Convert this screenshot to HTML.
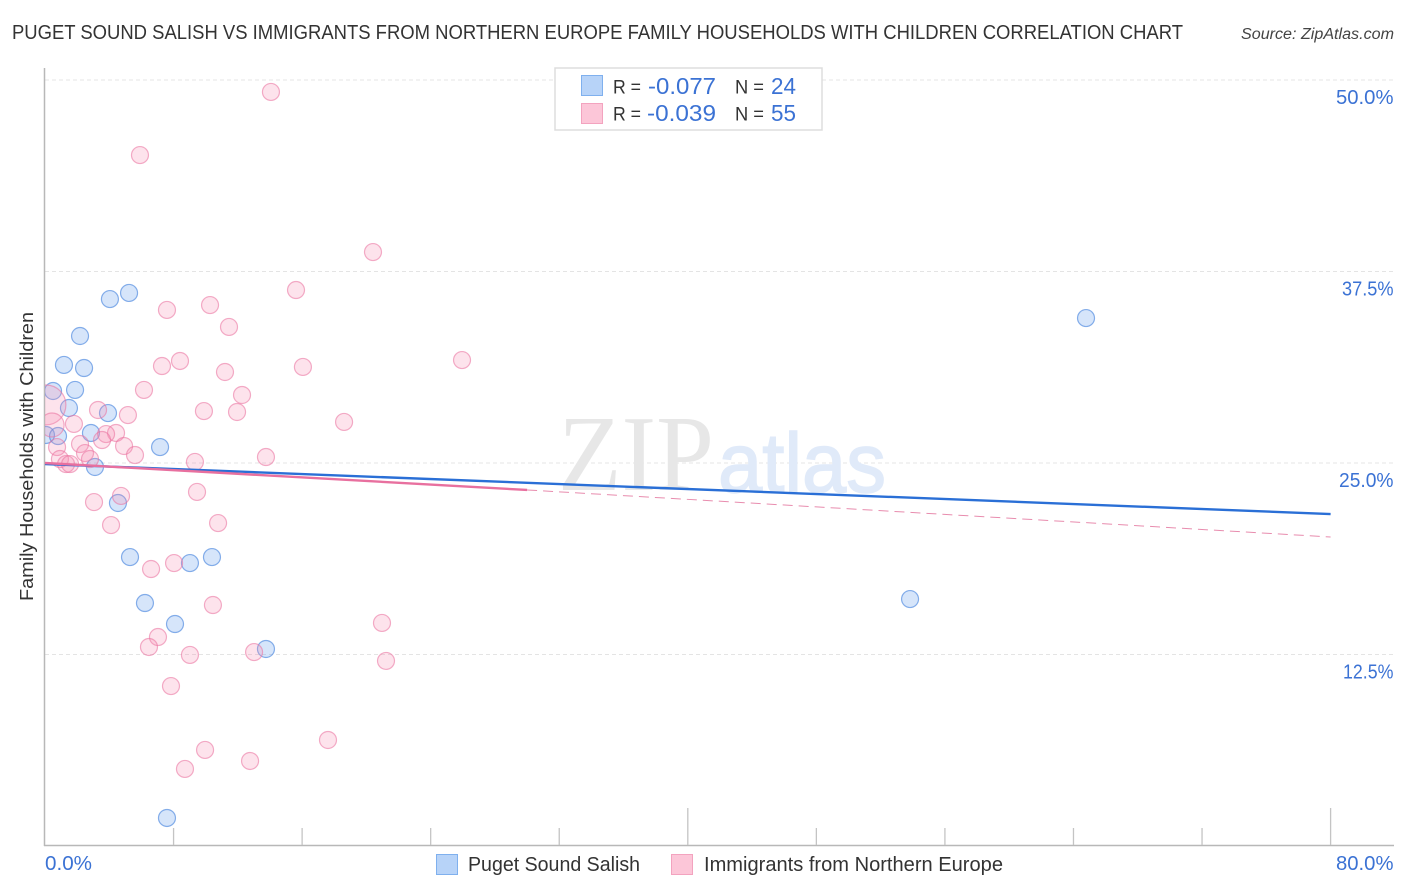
<!DOCTYPE html>
<html lang="en">
<head>
<meta charset="utf-8">
<title>Puget Sound Salish vs Immigrants from Northern Europe Correlation Chart</title>
<style>
html,body{margin:0;padding:0;background:#fff;width:1406px;height:892px;overflow:hidden}
svg{display:block;font-family:"Liberation Sans",sans-serif}
</style>
</head>
<body>
<svg id="chart" xmlns="http://www.w3.org/2000/svg" width="1406" height="892" viewBox="0 0 1406 892">
  <defs><clipPath id="plot-clip"><rect x="45" y="68" width="1349" height="777"/></clipPath></defs>
  <rect width="1406" height="892" fill="#fff"/>
  <text x="12" y="39" font-size="20" fill="#333" textLength="1171" lengthAdjust="spacingAndGlyphs">PUGET SOUND SALISH VS IMMIGRANTS FROM NORTHERN EUROPE FAMILY HOUSEHOLDS WITH CHILDREN CORRELATION CHART</text>
  <text x="1241" y="39" font-size="15.5" font-style="italic" fill="#444" textLength="153" lengthAdjust="spacingAndGlyphs">Source: ZipAtlas.com</text>
  <text transform="translate(33,456.5) rotate(-90)" text-anchor="middle" font-size="18.5" fill="#333" textLength="289" lengthAdjust="spacingAndGlyphs">Family Households with Children</text>
  <g id="grid"></g>
  <g>
    <text x="558" y="490" font-family="'Liberation Serif',serif" font-size="108" fill="#e7e7e7" textLength="156" lengthAdjust="spacingAndGlyphs">ZIP</text>
    <text x="718" y="492" font-size="84" fill="#e0eaf9" stroke="#e0eaf9" stroke-width="1.5" textLength="168" lengthAdjust="spacingAndGlyphs">atlas</text>
  </g>
  <g id="axes"></g>
  <g id="points" clip-path="url(#plot-clip)"></g>
  <g id="trends"></g>
  <g id="ylabels"></g>
  <g id="xlabels"></g>
  <g>
    <rect x="555" y="68" width="267" height="62" fill="#fff" stroke="#ddd" stroke-width="1.5"/>
    <rect x="581.5" y="75.5" width="21" height="20" fill="#b7d3f8" stroke="#7fb0ee"/>
    <rect x="581.5" y="103.5" width="21" height="20" fill="#fcc6d8" stroke="#f3a3bf"/>
    <text x="613" y="93.5" font-size="19" fill="#333" textLength="28" lengthAdjust="spacingAndGlyphs">R =</text>
    <text x="648" y="94" font-size="23" fill="#3b72d4" textLength="68" lengthAdjust="spacingAndGlyphs">-0.077</text>
    <text x="735" y="93.5" font-size="19" fill="#333" textLength="29" lengthAdjust="spacingAndGlyphs">N =</text>
    <text x="771" y="94" font-size="23" fill="#3b72d4" textLength="25" lengthAdjust="spacingAndGlyphs">24</text>
    <text x="613" y="120.5" font-size="19" fill="#333" textLength="28" lengthAdjust="spacingAndGlyphs">R =</text>
    <text x="647" y="121" font-size="23" fill="#3b72d4" textLength="69" lengthAdjust="spacingAndGlyphs">-0.039</text>
    <text x="735" y="120.5" font-size="19" fill="#333" textLength="29" lengthAdjust="spacingAndGlyphs">N =</text>
    <text x="771" y="121" font-size="23" fill="#3b72d4" textLength="25" lengthAdjust="spacingAndGlyphs">55</text>
  </g>
  <g>
    <rect x="436.5" y="854.5" width="21" height="20" fill="#b7d3f8" stroke="#7fb0ee"/>
    <text x="468" y="871" font-size="20" fill="#333" textLength="172" lengthAdjust="spacingAndGlyphs">Puget Sound Salish</text>
    <rect x="671.5" y="854.5" width="21" height="20" fill="#fcc6d8" stroke="#f3a3bf"/>
    <text x="704" y="871" font-size="20" fill="#333" textLength="299" lengthAdjust="spacingAndGlyphs">Immigrants from Northern Europe</text>
  </g>
</svg>
<script>
const yTickValues = [50, 37.5, 25, 12.5];
const yTickLabels = ['50.0%', '37.5%', '25.0%', '12.5%'];
const xTickValues = [8, 16, 24, 32, 40, 48, 56, 64, 72, 80];
const xMajorTicks = [40, 80];
const xEndValues = [0, 80];
const xEndLabels = ['0.0%', '80.0%'];

const blueX = [0.06,0.81,0.50,1.49,1.18,1.87,2.43,2.18,4.04,5.23,2.86,3.92,3.11,4.54,7.16,5.29,9.02,10.39,6.22,8.09,13.75,7.59,64.78,53.83];
const blueY = [26.83,26.76,29.70,28.59,31.40,29.77,31.20,33.29,35.70,36.10,26.96,28.26,24.74,22.39,26.04,18.86,18.47,18.86,15.86,14.49,12.86,1.83,34.46,16.12];

const pinkX = [14.06,5.91,20.41,15.62,7.59,10.27,11.45,25.95,16.05,8.40,7.28,11.20,6.16,12.26,9.89,11.95,3.30,5.16,18.61,1.80,4.42,3.80,3.55,2.18,4.92,5.60,13.75,9.33,2.49,0.75,0.93,2.80,1.31,1.56,4.73,9.46,3.05,10.77,4.11,8.03,6.60,10.45,20.97,7.03,6.47,9.02,13.01,21.22,7.84,17.61,9.96,12.76,8.71];
const pinkY = [49.22,45.10,38.77,36.29,34.99,35.31,33.88,31.72,31.27,31.66,31.33,30.94,29.77,29.44,28.39,28.33,28.46,28.13,27.68,27.55,26.96,26.89,26.50,26.24,26.11,25.52,25.39,25.07,25.65,26.04,25.26,25.26,24.93,24.93,22.85,23.11,22.45,21.08,20.95,18.47,18.08,15.73,14.56,13.64,12.99,12.47,12.66,12.08,10.44,6.92,6.27,5.55,5.03];

const pinkLargeX = [0.06, 0.44];
const pinkLargeY = [28.79, 27.48];
const pinkLargeWeight = [5.5, 2];

const blueTrendX = [0, 80];
const blueTrendY = [24.93, 21.67];
const pinkSolidX = [0, 30];
const pinkSolidY = [25.0, 23.24];
const pinkDashX = [30, 80];
const pinkDashY = [23.24, 20.17];

const NS = 'http://www.w3.org/2000/svg';
const sx = v => 45 + v * 16.07;
const sy = v => 80 + (50 - v) * 15.32;
const rad = w => 8.5 * Math.sqrt(w);

function make(tag, attrs, parent) {
  const el = document.createElementNS(NS, tag);
  for (const k in attrs) el.setAttribute(k, attrs[k]);
  parent.appendChild(el);
  return el;
}

// The reference typeface has wide round zeros; estimate each label's width per glyph.
function labelWidth(str) {
  let w = 0;
  for (const c of str) {
    if (c === '0') w += 13.5;
    else if (c === '1') w += 9.5;
    else if (c === '.') w += 5;
    else if (c === '%') w += 15;
    else w += 10.5;
  }
  return w;
}

const gridG = document.getElementById('grid');
yTickValues.forEach(v => {
  const el = make('line', {x1: 45, x2: 1394, y1: sy(v), y2: sy(v), stroke: '#e4e4e4', 'stroke-width': 1, 'stroke-dasharray': '4 3'}, gridG);
  
  
});

const axesG = document.getElementById('axes');
const yAxis = make('line', {x1: 44.5, x2: 44.5, y1: 68, y2: 846, stroke: '#b8b8b8', 'stroke-width': 1.5}, axesG);


const xAxis = make('line', {x1: 44, x2: 1394, y1: 845.5, y2: 845.5, stroke: '#b8b8b8', 'stroke-width': 1.5}, axesG);


xTickValues.forEach(v => {
  const top = xMajorTicks.includes(v) ? 808 : 828;
  const el = make('line', {x1: sx(v), x2: sx(v), y1: top, y2: 845, stroke: '#c4c4c4', 'stroke-width': 1.3}, axesG);
  
  
});

const pointsG = document.getElementById('points');
const blueStyle = {fill: 'rgba(105,160,235,0.27)', stroke: 'rgba(60,125,220,0.6)', 'stroke-width': 1.2};
const pinkStyle = {fill: 'rgba(245,140,175,0.24)', stroke: 'rgba(235,115,160,0.58)', 'stroke-width': 1.2};
blueX.forEach((x, i) => {
  const el = make('circle', Object.assign({cx: sx(x), cy: sy(blueY[i]), r: rad(1)}, blueStyle), pointsG);
  
  
});
pinkLargeX.forEach((x, i) => {
  const el = make('circle', Object.assign({cx: sx(x), cy: sy(pinkLargeY[i]), r: rad(pinkLargeWeight[i])}, pinkStyle), pointsG);
  
  
});
pinkX.forEach((x, i) => {
  const el = make('circle', Object.assign({cx: sx(x), cy: sy(pinkY[i]), r: rad(1)}, pinkStyle), pointsG);
  
  
});

const trendsG = document.getElementById('trends');
const blueTrend = make('line', {x1: sx(blueTrendX[0]), y1: sy(blueTrendY[0]), x2: sx(blueTrendX[1]), y2: sy(blueTrendY[1]), stroke: '#2a6fd6', 'stroke-width': 2.4}, trendsG);


const pinkDash = make('line', {x1: sx(pinkDashX[0]), y1: sy(pinkDashY[0]), x2: sx(pinkDashX[1]), y2: sy(pinkDashY[1]), stroke: '#e88cae', 'stroke-width': 1, 'stroke-dasharray': '10 6'}, trendsG);


const pinkSolid = make('line', {x1: sx(pinkSolidX[0]), y1: sy(pinkSolidY[0]), x2: sx(pinkSolidX[1]), y2: sy(pinkSolidY[1]), stroke: '#e8709f', 'stroke-width': 2.4}, trendsG);



const ylabG = document.getElementById('ylabels');
yTickValues.forEach((v, i) => {
  const w = labelWidth(yTickLabels[i]);
  const el = make('text', {x: 1393.5 - w, y: sy(v) + 24, 'font-size': 20, fill: '#3b72d4', textLength: w, lengthAdjust: 'spacingAndGlyphs'}, ylabG);
  el.textContent = yTickLabels[i];
  
  
});

const xlabG = document.getElementById('xlabels');
xEndValues.forEach((v, i) => {
  const w = labelWidth(xEndLabels[i]);
  const left = i === 0 ? sx(v) : 1393.5 - w;
  const el = make('text', {x: left, y: 870, 'font-size': 20, fill: '#3b72d4', textLength: w, lengthAdjust: 'spacingAndGlyphs'}, xlabG);
  el.textContent = xEndLabels[i];
  
  
});
</script>
</body>
</html>
